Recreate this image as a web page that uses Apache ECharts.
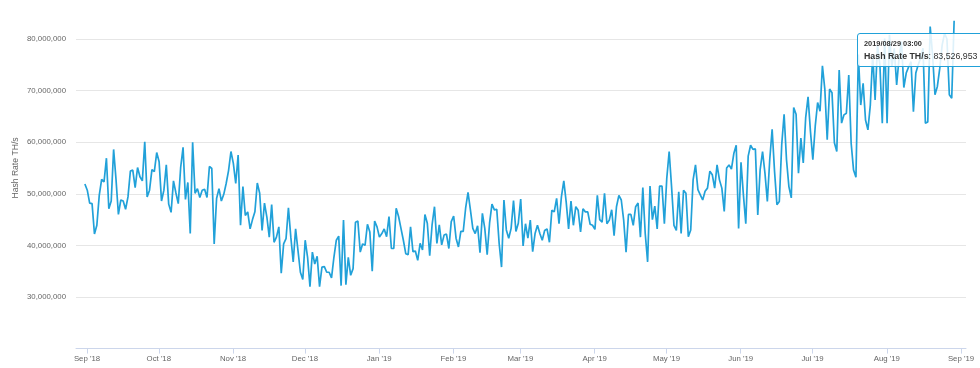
<!DOCTYPE html>
<html>
<head>
<meta charset="utf-8">
<script src="https://cdn.jsdelivr.net/npm/echarts@6/dist/echarts.min.js"></script>
<style>
html,body{margin:0;padding:0;overflow:hidden;background:#fff;}
#chart{width:980px;height:368px;}
</style>
</head>
<body>
<div id="chart"></div>
<script>
// ---- data ----
const seriesName = 'Hash Rate TH/s';
const firstPointUTC = [2018, 7, 31, 3]; // 2018/08/31 03:00, one point per day
const tickDates = ['2018-09-01','2018-10-01','2018-11-01','2018-12-01','2019-01-01','2019-02-01','2019-03-01',
                   '2019-04-01','2019-05-01','2019-06-01','2019-07-01','2019-08-01','2019-09-01'];
const tickLabels = ["Sep '18","Oct '18","Nov '18","Dec '18","Jan '19","Feb '19","Mar '19",
                    "Apr '19","May '19","Jun '19","Jul '19","Aug '19","Sep '19"];
const yTickValues = [20e6, 30e6, 40e6, 50e6, 60e6, 70e6, 80e6, 90e6];
// daily hash rate, millions of TH/s
const hashRateMillions = [
  51.9, 50.7, 48.2, 48.1, 42.2, 43.9, 49.7, 52.8, 52.3, 56.9,
  47.1, 48.6, 58.6, 52.8, 46.0, 48.8, 48.6, 47.0, 49.4, 54.4,
  54.6, 51.2, 55.1, 53.3, 52.5, 60.1, 49.4, 50.7, 54.7, 54.3,
  58.0, 56.2, 48.6, 50.7, 55.6, 48.0, 46.4, 52.5, 50.2, 48.1,
  55.1, 59.0, 48.9, 52.2, 42.3, 60.0, 50.1, 51.0, 49.3, 50.7,
  50.9, 49.3, 55.3, 54.9, 40.3, 49.1, 51.0, 48.6, 49.9, 52.0,
  54.5, 58.2, 55.9, 52.0,
  57.5, 43.9, 51.4, 45.8, 46.5, 43.2, 45.0, 46.5, 52.1, 50.1,
  42.9, 48.2, 45.5, 41.6, 47.9, 40.6, 41.6, 43.6, 34.6, 40.3,
  41.3, 47.3, 41.6, 36.8, 43.2, 39.0, 34.8, 33.4, 41.0, 37.7,
  32.0, 38.7, 36.4, 37.9, 32.0, 35.8, 35.9, 34.8, 34.8, 33.7,
  37.7, 41.0, 41.8, 32.2, 44.9, 32.4, 37.7, 34.2, 35.5, 44.5,
  44.7, 38.7, 40.3, 40.0, 44.1, 42.6, 35.0, 44.7, 43.6, 41.6,
  42.3, 43.2,
  41.7, 45.6, 39.4, 39.4, 47.2, 45.6, 43.3, 41.0, 38.4, 38.2,
  43.6, 38.8, 38.9, 37.1, 40.4, 39.1, 46.0, 44.3, 38.0, 44.0,
  47.5, 40.4, 44.0, 40.1, 42.0, 42.2, 39.4, 44.6, 45.7, 41.4,
  39.7, 42.7, 42.7, 47.2, 50.3, 46.9, 43.3, 42.3, 43.8, 38.6,
  46.2, 43.3, 38.2, 44.3, 48.0, 46.9, 47.0, 40.4, 35.8, 48.8,
  43.0, 41.4, 43.3, 48.7, 42.7, 44.3, 49.0, 39.9, 44.2, 41.4,
  44.9, 38.8, 42.3,
  43.9, 42.3, 41.0, 42.9, 43.2, 40.6, 46.8, 46.5, 49.1, 44.2,
  49.4, 52.5, 48.4, 43.2, 48.6, 43.9, 47.5, 46.8, 42.6, 47.1,
  46.5, 46.5, 44.1, 43.9, 43.1, 49.7, 45.0, 44.5, 50.1, 44.2,
  44.9, 46.9, 41.9, 47.5, 49.7, 48.8, 44.9, 38.7, 46.0, 46.0,
  43.9, 47.5, 48.2, 41.6, 51.2, 42.3, 36.8, 51.5, 45.0, 47.6,
  43.2, 51.5, 51.5, 44.2, 53.0, 58.2, 51.4, 43.9, 42.9, 50.4,
  42.3, 50.7,
  50.1, 41.7, 43.0, 52.7, 55.6, 50.8, 49.8, 48.8, 50.5, 51.1,
  54.4, 53.7, 51.1, 55.6, 52.7, 51.1, 46.6, 55.0, 55.6, 54.8,
  57.8, 59.4, 43.3, 56.1, 49.8, 44.2, 57.3, 59.4, 58.6, 58.7,
  45.9, 54.7, 58.2, 54.0, 48.5, 56.6, 62.5, 54.4, 47.9, 48.5,
  59.5, 65.4, 56.6, 51.4, 49.2, 66.7, 65.4, 54.0, 60.8, 56.0,
  64.7, 68.8, 62.1, 56.6, 63.1, 67.7, 66.0, 74.8, 70.3, 60.5,
  70.3, 69.6, 59.9,
  58.2, 74.0, 63.7, 65.3, 65.6, 73.0, 59.8, 54.6, 53.2, 77.0,
  67.2, 71.4, 64.3, 62.4, 67.2, 77.0, 68.2, 78.8, 75.0, 63.7,
  80.1, 63.7, 80.8, 74.6, 78.2, 71.1, 76.3, 79.5, 70.6, 73.4,
  74.6, 75.6, 65.9, 73.4, 75.0, 76.3, 78.2, 63.7, 63.9, 82.4,
  76.9, 69.2, 70.8, 74.3, 78.8, 81.1, 80.0, 69.2, 68.5, 83.526953
];

// ---- build ----
const lineColor = '#21a1d9';
const DAY = 86400000;
const t0 = Date.UTC(firstPointUTC[0], firstPointUTC[1], firstPointUTC[2], firstPointUTC[3]);
const seriesData = hashRateMillions.map((v, i) => [t0 + i * DAY, Math.round(v * 1e6)]);
const tickValues = tickDates.map(s => Date.parse(s + 'T00:00:00Z'));
const fmtNum = n => String(Math.round(n)).replace(/\B(?=(\d{3})+(?!\d))/g, ',');
const pad = n => (n < 10 ? '0' : '') + n;
const fmtDate = t => { const d = new Date(t);
  return d.getUTCFullYear() + '/' + pad(d.getUTCMonth() + 1) + '/' + pad(d.getUTCDate()) + ' ' +
         pad(d.getUTCHours()) + ':' + pad(d.getUTCMinutes()); };
const font = '"Liberation Sans", Arial, sans-serif';

const chart = echarts.init(document.getElementById('chart'), null, {renderer: 'canvas'});
chart.setOption({
  animation: false,
  backgroundColor: '#ffffff',
  textStyle: {fontFamily: font},
  grid: {left: 76, right: 14, top: -12.6, bottom: 19.4, containLabel: false, outerBoundsMode: 'none'},
  tooltip: {
    trigger: 'axis',
    axisPointer: {type: 'none'},
    alwaysShowContent: true,
    position: [857, 33],
    backgroundColor: 'rgba(255,255,255,0.85)',
    borderColor: lineColor,
    borderWidth: 1,
    padding: [4, 6],
    extraCssText: 'box-shadow:none;border-radius:3px;',
    textStyle: {fontFamily: font, fontSize: 8.8, color: '#333'},
    formatter: params => {
      const p = params[0];
      const ff = font.replace(/"/g, "'");
      return '<div style="color:#333;font-family:' + ff + '">' +
             '<div style="line-height:12px;font-size:7.4px;font-weight:bold">' + fmtDate(p.value[0]) + '</div>' +
             '<div style="line-height:12px;font-size:8.8px"><b>' + seriesName + '</b>: ' + fmtNum(p.value[1]) + '</div></div>';
    }
  },
  xAxis: {
    type: 'value',
    min: Date.UTC(2018, 7, 27, 10),
    max: Date.UTC(2019, 8, 3, 2),
    axisLine: {show: true, onZero: false, lineStyle: {color: '#ccd6eb', width: 1}},
    axisTick: {show: true, customValues: tickValues, length: 5, lineStyle: {color: '#ccd6eb'}},
    axisLabel: {
      customValues: tickValues,
      color: '#666666', fontSize: 7.8, margin: 6, fontFamily: font,
      formatter: v => { const i = tickValues.findIndex(t => Math.abs(t - v) < DAY); return i >= 0 ? tickLabels[i] : ''; }
    },
    splitLine: {show: false}
  },
  yAxis: {
    type: 'value',
    min: yTickValues[0],
    max: yTickValues[yTickValues.length - 1],
    interval: yTickValues[1] - yTickValues[0],
    name: seriesName,
    nameLocation: 'middle',
    nameGap: 56,
    nameMoveOverlap: false,
    nameTextStyle: {color: '#666666', fontSize: 8.6, fontFamily: font},
    axisLine: {show: false},
    axisTick: {show: false},
    axisLabel: {showMinLabel: false, color: '#666666', fontSize: 7.8, margin: 10, fontFamily: font,
                formatter: v => fmtNum(v)},
    splitLine: {show: true, showMinLine: false, lineStyle: {color: '#e6e6e6', width: 1}}
  },
  series: [{
    name: seriesName,
    type: 'line',
    data: seriesData,
    symbol: 'none',
    showSymbol: false,
    lineStyle: {color: lineColor, width: 1.7},
    itemStyle: {color: lineColor},
    emphasis: {disabled: true}
  }]
});
chart.dispatchAction({type: 'showTip', seriesIndex: 0, dataIndex: seriesData.length - 1});
</script>
</body>
</html>
